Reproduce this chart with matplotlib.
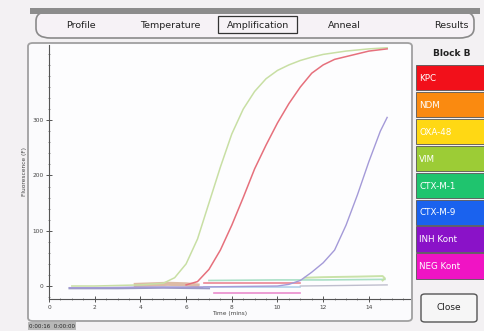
import matplotlib
matplotlib.use("Agg")
import matplotlib.pyplot as plt
from matplotlib.patches import FancyBboxPatch, Rectangle

# ---------------- data ----------------
tabs = ["Profile", "Temperature", "Amplification", "Anneal", "Results"]
legend_labels = ["KPC", "NDM", "OXA-48", "VIM", "CTX-M-1", "CTX-M-9", "INH Kont", "NEG Kont"]
legend_colors = ["#f2101a", "#fa8a10", "#ffd814", "#9ccc36", "#1fc46e", "#1a62ee", "#8a12c8", "#f014c4"]

x_ticks = [0, 2, 4, 6, 8, 10, 12, 14]
y_ticks = [0, 100, 200, 300]

green_t = [1.0, 2.0, 3.0, 4.0, 5.0, 5.5, 6.0, 6.5, 7.0, 7.5, 8.0, 8.5, 9.0, 9.5, 10.0, 10.5, 11.0, 11.5, 12.0, 13.0, 14.0, 14.8]
green_y = [0, 0, 1, 2, 5, 15, 40, 85, 150, 215, 275, 320, 352, 375, 390, 400, 408, 414, 419, 425, 429, 431]

red_t = [6.0, 6.5, 7.0, 7.5, 8.0, 8.5, 9.0, 9.5, 10.0, 10.5, 11.0, 11.5, 12.0, 12.5, 13.0, 13.5, 14.0, 14.8]
red_y = [2, 8, 30, 65, 110, 160, 212, 255, 295, 330, 360, 385, 400, 410, 415, 420, 425, 429]

purple_t = [0.9, 2.0, 4.0, 6.0, 8.0, 10.0, 10.5, 11.0, 11.5, 12.0, 12.5, 13.0, 13.5, 14.0, 14.5, 14.8]
purple_y = [-3, -3, -2, -2, -1, 0, 3, 10, 25, 42, 65, 110, 165, 225, 280, 305]

base_dark_t = [0.9, 3.0, 5.0, 7.0]
base_dark_y = [-4, -4, -3, -4]
base_orange_t = [3.8, 4.5, 5.2, 6.0, 6.5]
base_orange_y = [2, 3, 4, 3, 1]
base_pink_t = [7.2, 9.0, 11.0]
base_pink_y = [-13, -13, -13]
base_redflat_t = [6.8, 9.0, 11.0]
base_redflat_y = [5, 5, 5]
base_lblue_t = [6.8, 9.0, 11.0]
base_lblue_y = [-1, -1, -1]
base_green2_t = [7.0, 10.0, 12.0, 14.7]
base_green2_y = [10, 11, 11, 12]
base_lime_t = [11.2, 12.0, 13.5, 14.6, 14.7, 14.6]
base_lime_y = [15, 16, 17, 18, 14, 10]
base_grey_t = [11.0, 13.0, 14.8]
base_grey_y = [0, 1, 2]

# ---------------- figure ----------------
W, H = 484, 331
fig = plt.figure(figsize=(W / 100, H / 100), dpi=100)
fig.patch.set_facecolor("#f3f1f3")
plt.rcParams['font.family'] = ['DejaVu Sans']

def fx(px):
    return px / W

def fy(py):
    return 1 - py / H

# tab bar
bar = FancyBboxPatch((fx(36), fy(38)), fx(438), fy(11) - fy(38),
                     boxstyle="round,pad=0,rounding_size=0.03",
                     transform=fig.transFigure, facecolor="#f6f2f6",
                     edgecolor="#8a8a8a", linewidth=1.2, zorder=0)
fig.patches.append(bar)
fig.patches.append(Rectangle((fx(30), fy(14)), fx(450), fy(8) - fy(14),
                             transform=fig.transFigure, facecolor="#8c8c8c",
                             edgecolor="none", zorder=0))
tab_x = [81, 170, 258, 344, 451]
for name, x in zip(tabs, tab_x):
    fig.text(fx(x), fy(25), name, ha="center", va="center", fontsize=6.8,
             color="#222222")
fig.patches.append(Rectangle((fx(218), fy(33)), fx(79), fy(16) - fy(33),
                             transform=fig.transFigure, facecolor="none",
                             edgecolor="#333333", linewidth=0.9))

# plot panel frame
panel = FancyBboxPatch((fx(28), fy(321)), fx(384), fy(43) - fy(321),
                       boxstyle="round,pad=0,rounding_size=0.01",
                       transform=fig.transFigure, facecolor="#fbfbfd",
                       edgecolor="#a0a0a0", linewidth=1.3, zorder=0)
fig.patches.append(panel)

# axes
ax = fig.add_axes([fx(49), fy(299), fx(410 - 49), fy(45) - fy(299)])
ax.set_zorder(3)
ax.set_facecolor("#fdfdfe")
ax.set_xlim(0, 15.8)
ax.set_ylim(-23.5, 436)
for s in ["top", "right"]:
    ax.spines[s].set_visible(False)
for s in ["left", "bottom"]:
    ax.spines[s].set_color("#555555")
    ax.spines[s].set_linewidth(0.8)
ax.set_xticks(x_ticks)
ax.set_xticklabels([str(v) for v in x_ticks])
ax.set_yticks(y_ticks)
ax.set_yticklabels([str(v) for v in y_ticks])
ax.set_xticks([v * 0.5 for v in range(0, 32)], minor=True)
ax.set_yticks(list(range(-20, 440, 20)), minor=True)
ax.tick_params(axis="both", which="major", labelsize=4.2, direction="inout",
               length=4, width=0.7, color="#555555", labelcolor="#444444", pad=2)
ax.tick_params(axis="both", which="minor", direction="inout", length=2,
               width=0.5, color="#666666")
ax.set_xlabel("Time (mins)", fontsize=4.2, color="#444444", labelpad=1)
ax.set_ylabel("Fluorescence (F)", fontsize=4.2, color="#444444", labelpad=4)

ax.plot(base_dark_t, base_dark_y, color="#8080b8", lw=1.6, alpha=0.8)
ax.plot(base_orange_t, base_orange_y, color="#c8906c", lw=3.0, alpha=0.6)
ax.plot(base_pink_t, base_pink_y, color="#e880c8", lw=1.2, alpha=0.9)
ax.plot(base_redflat_t, base_redflat_y, color="#e87888", lw=1.2, alpha=0.9)
ax.plot(base_lblue_t, base_lblue_y, color="#a8cce8", lw=1.2, alpha=0.9)
ax.plot(base_green2_t, base_green2_y, color="#a0dcc0", lw=1.2, alpha=0.9)
ax.plot(base_lime_t, base_lime_y, color="#c4e0a0", lw=1.4, alpha=0.9)
ax.plot(base_grey_t, base_grey_y, color="#b8b8c8", lw=1.0, alpha=0.9)
ax.plot(purple_t, purple_y, color="#a49ad8", lw=1.0)
ax.plot(green_t, green_y, color="#c8dfa4", lw=1.1)
ax.plot(red_t, red_y, color="#e6707c", lw=1.1)

# bottom-left status text
fig.text(fx(29), fy(326), "0:00:16  0:00:00", fontsize=4.0, color="#222222",
         ha="left", va="center",
         bbox=dict(boxstyle="square,pad=0.2", facecolor="#b8b8b8", edgecolor="none"))

# legend
fig.text(fx(452), fy(53), "Block B", fontsize=6.5, fontweight="bold",
         ha="center", va="center", color="#222222")
top = 65
hgt = 26.9
for i, (lab, col) in enumerate(zip(legend_labels, legend_colors)):
    y0 = top + i * hgt
    fig.patches.append(Rectangle((fx(416), fy(y0 + hgt - 1.5)), fx(70), fy(y0) - fy(y0 + hgt - 1.5),
                                 transform=fig.transFigure, facecolor=col,
                                 edgecolor="#555555", linewidth=0.6))
    fig.text(fx(419), fy(y0 + hgt / 2), lab, fontsize=6.3, color="white",
             ha="left", va="center")

# close button
btn = FancyBboxPatch((fx(421), fy(322)), fx(56), fy(294) - fy(322),
                     boxstyle="round,pad=0,rounding_size=0.008",
                     transform=fig.transFigure, facecolor="#f6f6f6",
                     edgecolor="#555555", linewidth=1.0)
fig.patches.append(btn)
fig.text(fx(449), fy(308), "Close", fontsize=6.5, ha="center", va="center",
         color="#222222")

fig.savefig("out.png", dpi=100)
